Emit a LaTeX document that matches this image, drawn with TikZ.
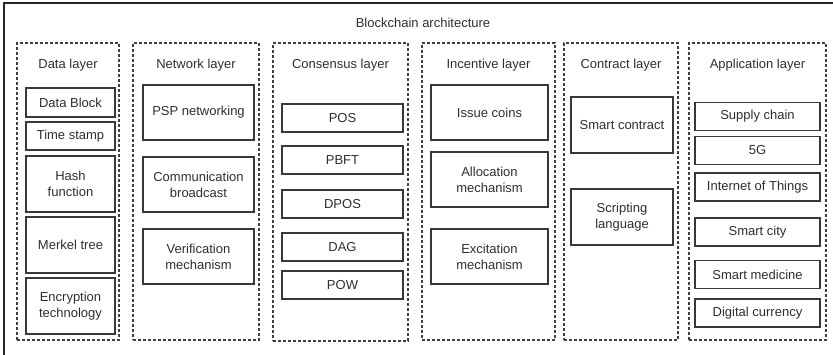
\documentclass[tikz,border=0pt]{standalone}
\usepackage{fontspec}
\setmainfont{Liberation Sans}
\begin{document}
\begin{tikzpicture}[x=1pt,y=-1pt,
  every node/.style={font=\fontsize{13}{16}\selectfont, text=black!82, inner sep=0pt, align=center},
  layer/.style={draw=black!75, line width=1.1pt, dash pattern=on 3pt off 2pt},
  box/.style={draw=black!78, line width=1.2pt},
  frame/.style={draw=black!85, line width=1.5pt}]
\useasboundingbox (0,0) rectangle (833,354);
\coordinate (fbl) at (4,356);
\coordinate (ftr) at (840,3);
\draw[frame] (fbl) |- (ftr);
\node (title) at (423,23) {Blockchain architecture};
% columns
\node[layer, minimum width=102pt, minimum height=297pt] (c1) at (68,191.5) {};
\node[layer, minimum width=126pt, minimum height=297pt] (c2) at (196,191.5) {};
\node[layer, minimum width=135pt, minimum height=298pt] (c3) at (340.5,192) {};
\node[layer, minimum width=133pt, minimum height=297pt] (c4) at (488.5,191.5) {};
\node[layer, minimum width=114pt, minimum height=297pt] (c5) at (621,191.5) {};
\node[layer, minimum width=137pt, minimum height=297pt] (c6) at (757.5,191.5) {};
% titles
\node (t1) at (68,65) {Data layer};
\node (t2) at (196,65) {Network layer};
\node (t3) at (340.5,65) {Consensus layer};
\node (t4) at (488.5,65) {Incentive layer};
\node (t5) at (621,65) {Contract layer};
\node (t6) at (757.5,65) {Application layer};
% data layer
\begin{scope}[every node/.append style={box, minimum width=89pt}]
\node[minimum height=29pt] (d1) at (70.5,102.5) {Data Block};
\node[minimum height=28pt] (d2) at (70.5,136) {Time stamp};
\node[minimum height=56pt] (d3) at (70.5,184) {Hash\\function};
\node[minimum height=56pt] (d4) at (70.5,245) {Merkel tree};
\node[minimum height=56pt] (d5) at (70.5,306) {Encryption\\technology};
\end{scope}
% network layer
\begin{scope}[every node/.append style={box, minimum width=111pt, minimum height=55pt}]
\node (n1) at (198.5,112.5) {PSP networking};
\node (n2) at (198.5,184.5) {Communication\\broadcast};
\node (n3) at (198.5,256.5) {Verification\\mechanism};
\end{scope}
% consensus layer
\begin{scope}[every node/.append style={box, minimum width=121pt, minimum height=28pt}]
\node (s1) at (342.5,118) {POS};
\node (s2) at (342.5,160) {PBFT};
\node (s3) at (342.5,204) {DPOS};
\node (s4) at (342.5,247) {DAG};
\node (s5) at (342.5,285) {POW};
\end{scope}
% incentive layer
\begin{scope}[every node/.append style={box, minimum width=117pt, minimum height=55pt}]
\node (i1) at (489.5,112.5) {Issue coins};
\node (i2) at (489.5,179.5) {Allocation\\mechanism};
\node (i3) at (489.5,256.5) {Excitation\\mechanism};
\end{scope}
% contract layer
\begin{scope}[every node/.append style={box, minimum width=102pt, minimum height=56pt}]
\node (k1) at (622,125) {Smart contract};
\node (k2) at (622,217) {Scripting\\language};
\end{scope}
% application layer
\begin{scope}[every node/.append style={box, minimum width=125pt, minimum height=28pt}]
\node (a1) at (757.5,116.5) {Supply chain};
\node (a2) at (757.5,150.5) {5G};
\node (a3) at (757.5,187) {Internet of Things};
\node (a4) at (757.5,232) {Smart city};
\node (a5) at (757.5,274.5) {Smart medicine};
\node (a6) at (757.5,313) {Digital currency};
\end{scope}
\end{tikzpicture}
\end{document}
